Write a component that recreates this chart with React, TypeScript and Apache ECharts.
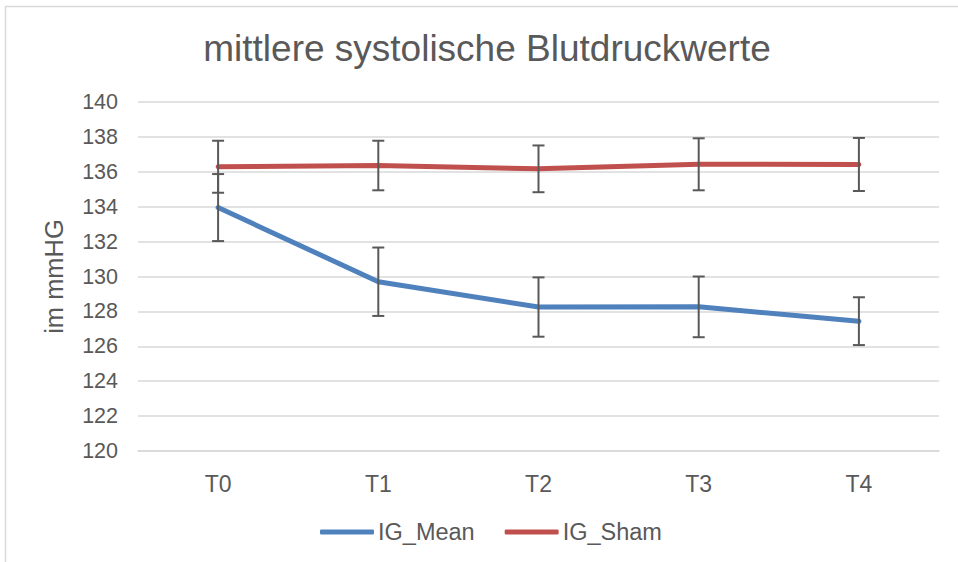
import React, { useEffect, useRef } from "react";
import * as echarts from "echarts";

const categories = ["T0", "T1", "T2", "T3", "T4"];
const igMean = [133.95, 129.7, 128.25, 128.26, 127.44];
const igMeanErr = [1.92, 1.96, 1.7, 1.74, 1.37];
const igSham = [136.29, 136.36, 136.17, 136.43, 136.42];
const igShamErr = [1.49, 1.42, 1.34, 1.49, 1.52];
const yTicks = { min: 120, max: 140, interval: 2 };

const FONT = "'Liberation Sans', Arial, sans-serif";
const TEXT_COLOR = "#595959";

function errorData(vals: number[], errs: number[]) {
  return vals.map((v, i) => [i, v - errs[i], v + errs[i]]);
}

function renderErr(params: any, api: any) {
  const x = api.value(0);
  const lo = api.coord([x, api.value(1)]);
  const hi = api.coord([x, api.value(2)]);
  const hw = 6;
  const style = { stroke: "#595959", lineWidth: 2, fill: null };
  return {
    type: "group",
    children: [
      { type: "line", shape: { x1: hi[0], y1: hi[1], x2: lo[0], y2: lo[1] }, style },
      { type: "line", shape: { x1: hi[0] - hw, y1: hi[1], x2: hi[0] + hw, y2: hi[1] }, style },
      { type: "line", shape: { x1: lo[0] - hw, y1: lo[1], x2: lo[0] + hw, y2: lo[1] }, style },
    ],
  };
}

export default function App() {
  const ref = useRef<HTMLDivElement>(null);
  useEffect(() => {
    if (!ref.current) return;
    const chart = echarts.init(ref.current, null, { renderer: "svg" });
    chart.setOption({
      animation: false,
      backgroundColor: "#ffffff",
      textStyle: { fontFamily: FONT },
      graphic: [
        {
          type: "rect",
          shape: { x: 5.5, y: 6.5, width: 1000, height: 600 },
          style: { fill: "none", stroke: "#d9d9d9", lineWidth: 1.5 },
          silent: true,
        },
      ],
      title: {
        text: "mittlere systolische Blutdruckwerte",
        left: 487,
        top: 30,
        textAlign: "center",
        padding: 0,
        textStyle: { fontFamily: FONT, fontSize: 37, fontWeight: "normal", color: TEXT_COLOR },
      },
      legend: {
        data: ["IG_Mean", "IG_Sham"],
        left: 320,
        top: 520,
        padding: 0,
        icon: "roundRect",
        itemWidth: 54,
        itemHeight: 5,
        itemGap: 30,
        textStyle: { fontFamily: FONT, fontSize: 23.5, color: TEXT_COLOR, padding: [0, 0, 0, -1] },
      },
      grid: { left: 138, right: 19, top: 102, bottom: 111, containLabel: false },
      xAxis: {
        type: "category",
        data: categories,
        boundaryGap: true,
        axisLine: { show: true, lineStyle: { color: "#d9d9d9", width: 1.5 } },
        axisTick: { show: false },
        axisLabel: { fontFamily: FONT, fontSize: 23, color: TEXT_COLOR, margin: 21 },
      },
      yAxis: {
        type: "value",
        min: yTicks.min,
        max: yTicks.max,
        interval: yTicks.interval,
        name: "im mmHG",
        nameLocation: "middle",
        nameGap: 71,
        nameTextStyle: { fontFamily: FONT, fontSize: 25.5, color: TEXT_COLOR },
        axisLine: { show: false },
        axisTick: { show: false },
        axisLabel: { fontFamily: FONT, fontSize: 21.5, color: TEXT_COLOR, margin: 20 },
        splitLine: { lineStyle: { color: "#d9d9d9", width: 1.5 } },
      },
      series: [
        {
          name: "IG_Mean",
          type: "line",
          data: igMean,
          symbol: "none",
          z: 2,
          lineStyle: { color: "#4f81bd", width: 5, cap: "round", join: "round" },
          itemStyle: { color: "#4f81bd" },
        },
        {
          name: "IG_Sham",
          type: "line",
          data: igSham,
          symbol: "none",
          z: 2,
          lineStyle: { color: "#c0504d", width: 5, cap: "round", join: "round" },
          itemStyle: { color: "#c0504d" },
        },
        {
          name: "IG_Mean SD",
          type: "custom",
          data: errorData(igMean, igMeanErr),
          encode: { x: 0, y: [1, 2] },
          renderItem: renderErr,
          z: 3,
          silent: true,
        },
        {
          name: "IG_Sham SD",
          type: "custom",
          data: errorData(igSham, igShamErr),
          encode: { x: 0, y: [1, 2] },
          renderItem: renderErr,
          z: 3,
          silent: true,
        },
      ],
    });
    return () => chart.dispose();
  }, []);
  return (
    <div
      ref={ref}
      style={{ position: "fixed", left: 0, top: 0, width: 958, height: 562 }}
    />
  );
}
